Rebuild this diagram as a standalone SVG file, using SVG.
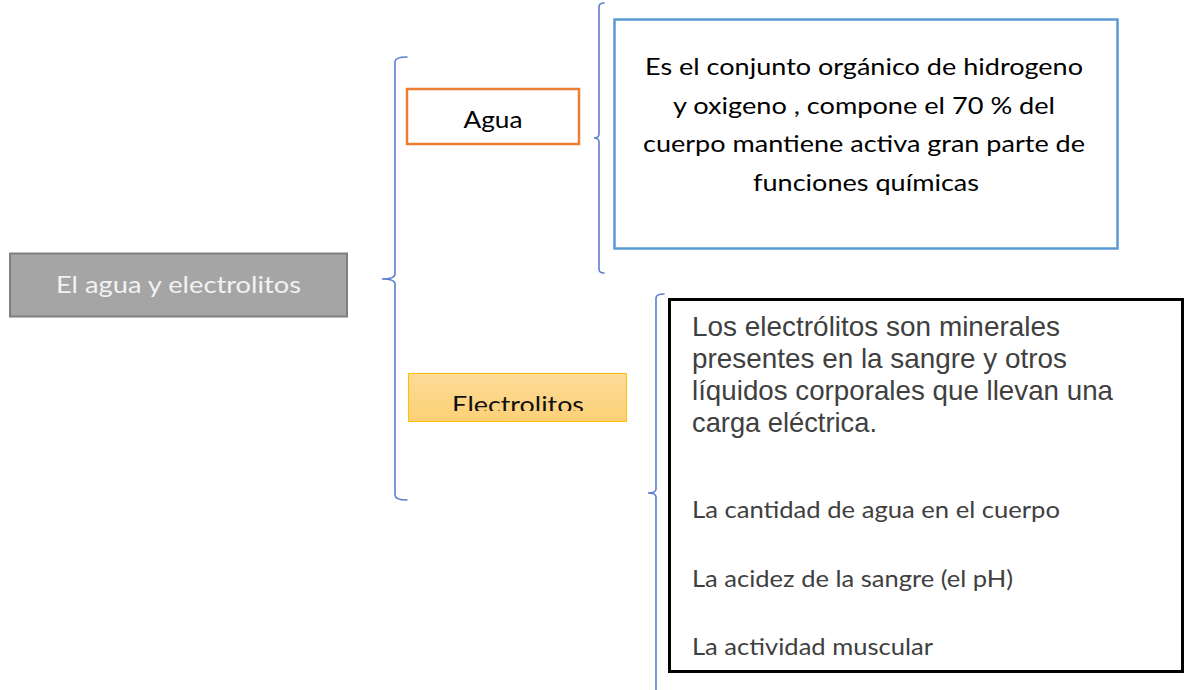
<svg xmlns="http://www.w3.org/2000/svg" width="1185" height="690" viewBox="0 0 1185 690">
<style>
.brace{fill:none;stroke:#5a7fd0;stroke-width:1.6;stroke-linecap:round}
.cal{font-family:Lato,"Open Sans","Liberation Sans",sans-serif;font-size:24px}
.ari{font-family:"Liberation Sans",Arial,sans-serif;font-size:28px;fill:#404040}
</style>
<defs>
<linearGradient id="gold" x1="0" y1="0" x2="0" y2="1">
<stop offset="0" stop-color="#fddb98"/>
<stop offset="1" stop-color="#fcd175"/>
</linearGradient>
<clipPath id="clipE"><rect x="408" y="373" width="219" height="38"/></clipPath>
</defs>
<rect width="1185" height="690" fill="#ffffff"/>
<g id="connectors">
<path class="brace" d="M407,57 Q395,57 395,62 L395,274 Q395,279 382,279 Q395,279 395,284 L395,495 Q395,500 407,500"/>
<path class="brace" d="M604,3 Q599,3 599,7 L599,134 Q599,138 594,138 Q599,138 599,142 L599,269 Q599,273 604,273"/>
<path class="brace" d="M664,294 Q656,294 656,298 L656,489 Q656,493 648,493 Q656,493 656,497 L656,695"/>
</g>
<g id="root">
<rect x="10" y="253.5" width="337" height="63" fill="#a5a5a5" stroke="#7f7f7f" stroke-width="2"/>
<text class="cal" x="178.5" y="293" text-anchor="middle" fill="#f2f2f2" textLength="245" lengthAdjust="spacingAndGlyphs">El agua y electrolitos</text>
</g>
<g id="agua">
<rect x="407" y="89" width="172" height="55" fill="#ffffff" stroke="#ed7d31" stroke-width="2.5"/>
<text class="cal" x="493" y="128" text-anchor="middle" fill="#000000" textLength="59" lengthAdjust="spacingAndGlyphs">Agua</text>
</g>
<g id="electrolitos">
<rect x="408.5" y="373.5" width="218" height="48" fill="url(#gold)" stroke="#ffc000" stroke-width="1"/>
<text class="cal" x="518" y="413" text-anchor="middle" fill="#111111" clip-path="url(#clipE)" textLength="132" lengthAdjust="spacingAndGlyphs">Electrolitos</text>
</g>
<g id="agua-desc">
<rect x="614.5" y="19.5" width="503" height="229" fill="#ffffff" stroke="#5b9bd5" stroke-width="2.5"/>
<g class="cal" fill="#000000" text-anchor="middle">
<text x="864" y="75" textLength="438" lengthAdjust="spacingAndGlyphs">Es el conjunto orgánico de hidrogeno</text>
<text x="864" y="114" textLength="382" lengthAdjust="spacingAndGlyphs">y oxigeno , compone el 70 % del</text>
<text x="864" y="152" textLength="442" lengthAdjust="spacingAndGlyphs">cuerpo mantiene activa gran parte de</text>
<text x="866" y="191" textLength="226" lengthAdjust="spacingAndGlyphs">funciones químicas</text>
</g>
</g>
<g id="electrolitos-desc">
<rect x="669.5" y="299.5" width="513" height="372" fill="#ffffff" stroke="#000000" stroke-width="3"/>
<text class="ari" x="692" y="336" textLength="368" lengthAdjust="spacingAndGlyphs">Los electrólitos son minerales</text>
<text class="ari" x="692" y="368" textLength="375" lengthAdjust="spacingAndGlyphs">presentes en la sangre y otros</text>
<text class="ari" x="692" y="400" textLength="421" lengthAdjust="spacingAndGlyphs">líquidos corporales que llevan una</text>
<text class="ari" x="692" y="432" textLength="185" lengthAdjust="spacingAndGlyphs">carga eléctrica.</text>
<g class="cal" fill="#404040">
<text x="692" y="518" textLength="368" lengthAdjust="spacingAndGlyphs">La cantidad de agua en el cuerpo</text>
<text x="692" y="587" textLength="321" lengthAdjust="spacingAndGlyphs">La acidez de la sangre (el pH)</text>
<text x="692" y="655" textLength="241" lengthAdjust="spacingAndGlyphs">La actividad muscular</text>
</g>
</g>
</svg>
